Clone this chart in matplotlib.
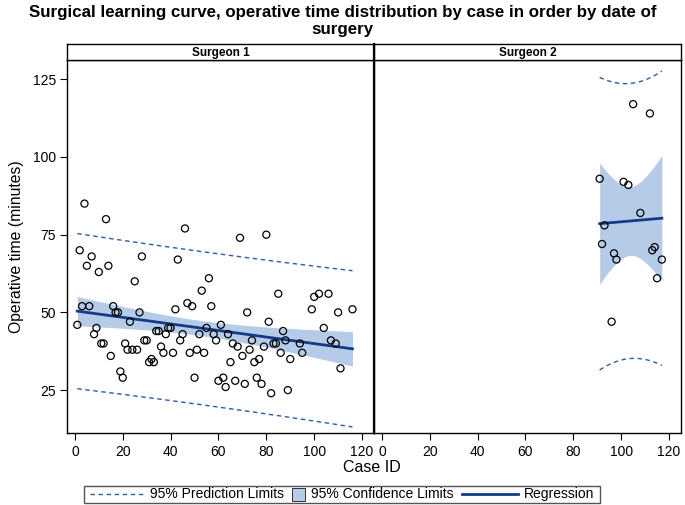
import numpy as np
import matplotlib
matplotlib.use("Agg")
import matplotlib.pyplot as plt
from matplotlib.lines import Line2D
from matplotlib.patches import Rectangle

plt.rcParams['font.family'] = ['Liberation Sans', 'DejaVu Sans']

# ---- data ----
s1_case = [1, 2, 3, 4, 5, 6, 7, 8, 9, 10, 11, 12, 13, 14, 15, 16, 17, 18, 19, 20,
           21, 22, 23, 24, 25, 26, 27, 28, 29, 30, 31, 32, 33, 34, 35, 36, 37, 38, 39, 40,
           41, 42, 43, 44, 45, 46, 47, 48, 49, 50, 51, 52, 53, 54, 55, 56, 57, 58, 59, 60,
           61, 62, 63, 64, 65, 66, 67, 68, 69, 70, 71, 72, 73, 74, 75, 76, 77, 78, 79, 80,
           81, 82, 83, 84, 85, 86, 87, 88, 89, 90, 94, 95, 99, 100, 102, 104, 106, 107,
           109, 110, 111, 116]
s1_time = [46, 70, 52, 85, 65, 52, 68, 43, 45, 63, 40, 40, 80, 65, 36, 52, 50, 50, 31, 29,
           40, 38, 47, 38, 60, 38, 50, 68, 41, 41, 34, 35, 34, 44, 44, 39, 37, 43, 45, 45,
           37, 51, 67, 41, 43, 77, 53, 37, 52, 29, 38, 43, 57, 37, 45, 61, 52, 43, 41, 28,
           46, 29, 26, 43, 34, 40, 28, 39, 74, 36, 27, 50, 38, 41, 34, 29, 35, 27, 39, 75,
           47, 24, 40, 40, 56, 37, 44, 41, 25, 35, 40, 37, 51, 55, 56, 45, 56, 41,
           40, 50, 32, 51]
s2_case = [91, 92, 93, 96, 97, 98, 101, 103, 105, 108, 112, 113, 114, 115, 117]
s2_time = [93, 72, 78, 47, 69, 67, 92, 91, 117, 82, 114, 70, 71, 61, 67]

panels = ["Surgeon 1", "Surgeon 2"]
x_ticks = [0, 20, 40, 60, 80, 100, 120]
y_ticks = [25, 50, 75, 100, 125]
# two-sided 95% t critical values for df = n - 2
t_crit = {100: 1.98397, 13: 2.16037}

title = "Surgical learning curve, operative time distribution by case in order by date of\nsurgery"
legend_labels = ["95% Prediction Limits", "95% Confidence Limits", "Regression"]

# ---- style ----
line_col = '#143C86'
band_col = '#B5CBE8'
pred_col = '#2E5AA6'
dash = (0, (3.2, 2.6))

W, H = 685, 505
fig = plt.figure(figsize=(W / 100, H / 100), dpi=100)


def fx(px):
    return px / W


def fy(py):
    return 1 - py / H


left_px = [67, 374]
panel_w = 307
top_px, bot_px, strip_top = 60, 433, 44

fig.text(0.5, fy(21), title, ha='center', va='center', fontsize=12.2,
         fontweight='bold', linespacing=1.2)

data = [(s1_case, s1_time), (s2_case, s2_time)]
for i, (name, (xc, yt)) in enumerate(zip(panels, data)):
    lp = left_px[i]
    ax = fig.add_axes([fx(lp), fy(bot_px), panel_w / W, (bot_px - top_px) / H])
    sax = fig.add_axes([fx(lp), fy(top_px), panel_w / W, (top_px - strip_top) / H])
    sax.set_xticks([]); sax.set_yticks([])
    sax.text(0.5, 0.45, name, ha='center', va='center', fontsize=8.5,
             fontweight='bold', transform=sax.transAxes)
    for sp in sax.spines.values():
        sp.set_linewidth(1.0)

    x = np.asarray(xc, float)
    y = np.asarray(yt, float)
    n = len(x)
    b1, b0 = np.polyfit(x, y, 1)
    resid = y - (b0 + b1 * x)
    s = np.sqrt(np.sum(resid ** 2) / (n - 2))
    xbar = x.mean()
    sxx = np.sum((x - xbar) ** 2)
    t = t_crit[n - 2]
    xg = np.linspace(x.min(), x.max(), 200)
    yg = b0 + b1 * xg
    se_m = s * np.sqrt(1 / n + (xg - xbar) ** 2 / sxx)
    se_p = s * np.sqrt(1 + 1 / n + (xg - xbar) ** 2 / sxx)

    ax.fill_between(xg, yg - t * se_m, yg + t * se_m, color=band_col, lw=0, zorder=1)
    ax.plot(xg, yg + t * se_p, ls=dash, color=pred_col, lw=1.0, zorder=2)
    ax.plot(xg, yg - t * se_p, ls=dash, color=pred_col, lw=1.0, zorder=2)
    ax.plot(xg, yg, color=line_col, lw=2.0, zorder=3)
    ax.scatter(x, y, s=26, facecolors='none', edgecolors='black', linewidths=0.9, zorder=4)

    ax.set_xlim(-3.3, 125)
    ax.set_ylim(11.2, 131.2)
    ax.set_xticks(x_ticks)
    ax.tick_params(axis='x', direction='out', length=5, width=0.8, labelsize=10, pad=4)
    if i == 0:
        ax.set_yticks(y_ticks)
        ax.tick_params(axis='y', direction='out', length=5, width=0.8, labelsize=10, pad=3)
        ax.set_ylabel("Operative time (minutes)", fontsize=11.3, labelpad=6)
    else:
        ax.set_yticks([])
    for sp in ax.spines.values():
        sp.set_linewidth(1.0)

# thicker divider between panels
fig.add_artist(Line2D([fx(374), fx(374)], [fy(bot_px), fy(strip_top)], color='black', lw=1.6))

fig.text(fx(372), fy(467), "Case ID", ha='center', va='center', fontsize=11.5)

# ---- legend drawn in pixel coordinates ----
lax = fig.add_axes([0, 0, 1, 1], zorder=10)
lax.set_xlim(0, W); lax.set_ylim(H, 0); lax.axis('off')
lax.add_patch(Rectangle((84, 485.5), 516, 17.5, facecolor='white', edgecolor='#555555', lw=1.0))
ly = 494
lax.plot([90, 143], [ly, ly], ls=dash, color=pred_col, lw=1.0)
lax.text(150, ly, legend_labels[0], ha='left', va='center', fontsize=10)
lax.add_patch(Rectangle((292, ly - 6.5), 13, 13, facecolor=band_col, edgecolor='#333333', lw=0.7))
lax.text(311, ly, legend_labels[1], ha='left', va='center', fontsize=10)
lax.plot([462, 518], [ly, ly], color=line_col, lw=2.0)
lax.text(524, ly, legend_labels[2], ha='left', va='center', fontsize=10)

fig.savefig("out.png", dpi=100)
